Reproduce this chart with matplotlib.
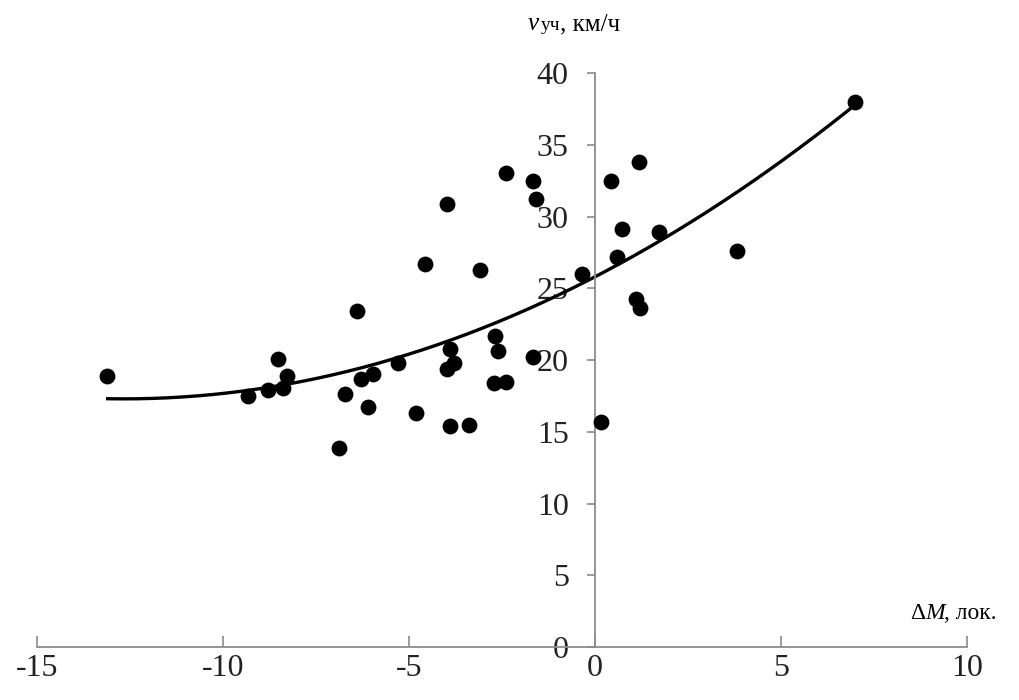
import numpy as np
import matplotlib
matplotlib.use("Agg")
import matplotlib.pyplot as plt

# measured points (ΔM, lok. ; v, km/h)
dm = [-13.12, -9.33, -8.79, -8.52, -8.39, -8.29, -6.88, -6.72, -6.40, -6.10,
      -6.29, -5.97, -5.30, -4.81, -4.57, -3.98, -3.90, -3.98, -3.79, -3.90,
      -3.39, -3.09, -2.69, -2.61, -2.72, -2.39, -2.39, -1.67, -1.59, -1.67,
      -0.35, 0.16, 0.43, 0.59, 0.73, 1.18, 1.10, 1.21, 1.72, 3.82, 6.99]
v_uch = [18.9, 17.5, 17.9, 20.1, 18.05, 18.9, 13.9, 17.6, 23.4, 16.7,
         18.7, 19.0, 19.8, 16.3, 26.7, 30.9, 20.8, 19.4, 19.8, 15.4,
         15.5, 26.3, 21.7, 20.6, 18.4, 18.5, 33.0, 32.5, 31.2, 20.2,
         26.0, 15.7, 32.5, 27.2, 29.1, 33.8, 24.25, 23.6, 28.9, 27.6, 38.0]

# polynomial trend line (2nd order)
trend_coef = [0.053, 1.343, 25.8]
trend_range = [-13.1, 7.0]

xticks = [-15, -10, -5, 0, 5, 10]
yticks = [0, 5, 10, 15, 20, 25, 30, 35, 40]

plt.rcParams['font.family'] = ['Liberation Serif', 'DejaVu Serif']
plt.rcParams['axes.unicode_minus'] = False

fig = plt.figure(figsize=(10.19, 7.0), dpi=100)
ax = fig.add_axes([0.0363, 0.0757, 0.9127, 0.82])

xs = np.linspace(trend_range[0], trend_range[1], 200)
ax.plot(xs, np.polyval(trend_coef, xs), color='black', lw=2.4, zorder=2)
ax.scatter(dm, v_uch, s=130, color='black', zorder=3, linewidths=0)

ax.set_xlim(-15, 10)
ax.set_ylim(0, 40)
ax.set_xticks(xticks)
ax.set_yticks(yticks)

for s in ['top', 'right']:
    ax.spines[s].set_visible(False)
ax.spines['left'].set_position(('data', 0))
ax.spines['bottom'].set_position(('data', 0))
for s in ['left', 'bottom']:
    ax.spines[s].set_color('#8c8c8c')
    ax.spines[s].set_linewidth(1.3)

ax.tick_params(axis='y', direction='out', length=6, width=1.2, color='#8c8c8c',
               labelsize=23, pad=13, labelcolor='#222222')
ax.tick_params(axis='x', direction='in', length=8, width=1.2, color='#8c8c8c',
               labelsize=23, pad=5, labelcolor='#222222')

ax.patch.set_visible(False)

# axis titles
fig.text(0.518, 0.957, 'v', fontsize=18, style='italic', ha='left', va='baseline')
fig.text(0.531, 0.957, 'уч', fontsize=14, ha='left', va='baseline')
fig.text(0.5495, 0.957, ', км/ч', fontsize=18, ha='left', va='baseline')

fig.text(0.893, 0.116, 'Δ', fontsize=17, ha='left', va='baseline')
fig.text(0.908, 0.116, 'M', fontsize=17, style='italic', ha='left', va='baseline')
fig.text(0.926, 0.116, ', лок.', fontsize=17, ha='left', va='baseline')

fig.savefig('out.png', dpi=100)
